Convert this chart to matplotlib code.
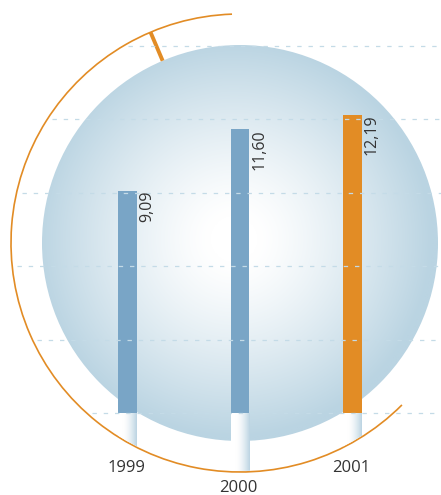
import numpy as np
import matplotlib
matplotlib.use("Agg")
import matplotlib.pyplot as plt
from matplotlib.patches import Circle, Arc
from matplotlib.colors import to_rgb

# ---- data ----
years = ["1999", "2000", "2001"]
values = [9.09, 11.60, 12.19]
value_labels = ["9,09", "11,60", "12,19"]
bar_colors = ["#79a5c6", "#79a5c6", "#e28c25"]
grid_values = [0, 3, 6, 9, 12, 15]
year_label_drop = [59, 79, 59]   # distance (px) from baseline to the year label baseline

# ---- layout ----
W, H, DPI = 441, 495, 100
FONT = ["Open Sans", "DejaVu Sans"]
plt.rcParams["font.family"] = FONT

fig = plt.figure(figsize=(W / DPI, H / DPI), dpi=DPI)

# decoration layer, pixel units with y pointing up
deco = fig.add_axes([0, 0, 1, 1], zorder=0)
deco.set_xlim(0, W)
deco.set_ylim(0, H)
deco.axis("off")

cx, cy = 240, 252
R_sphere = 198
R_ring = 229
orange = "#e28c25"

# shaded sphere: radial gradient from white centre to pale blue rim
edge = np.array(to_rgb("#bad4e2"))
n = 500
gx = np.linspace(-1, 1, n)
GX, GY = np.meshgrid(gx, gx)
r = np.clip(np.hypot(GX + 0.03, GY - 0.02), 0, 1)
f = np.clip((r - 0.12) / 0.88, 0, 1) ** 1.25
img = (1 - f)[..., None] * np.ones(3) + f[..., None] * edge
sphere_clip = Circle((cx, cy), R_sphere, transform=deco.transData)
im = deco.imshow(img, extent=[cx - R_sphere, cx + R_sphere, cy - R_sphere, cy + R_sphere],
                 origin="lower", interpolation="bilinear", zorder=1)
im.set_clip_path(sphere_clip)
deco.set_xlim(0, W)
deco.set_ylim(0, H)

# open orange ring with a radial tick
deco.add_patch(Arc((cx, cy), 2 * R_ring, 2 * R_ring, theta1=92, theta2=315,
                   color=orange, lw=1.2, zorder=3))
ang = np.deg2rad(113)
deco.plot([cx + R_sphere * np.cos(ang), cx + R_ring * np.cos(ang)],
          [cy + R_sphere * np.sin(ang), cy + R_ring * np.sin(ang)],
          color=orange, lw=2.8, solid_capstyle="butt", zorder=3)

# ---- chart layer ----
ax = fig.add_axes([0, 0, 1, 1], zorder=1)
ax.patch.set_alpha(0)
ax.axis("off")
x0_px, step_px = 127.5, 112.5
base_px, unit_px = 413, 24.47
ax.set_xlim(-x0_px / step_px, (W - x0_px) / step_px)
ax.set_ylim(-(H - base_px) / unit_px, base_px / unit_px)

x = np.arange(len(years))
bar_w = 18.5 / step_px
ax.bar(x, values, width=bar_w, color=bar_colors, zorder=2)

# reflective stems below the baseline, cut by the ring
ring_clip = Circle((cx, cy), R_ring - 1, transform=deco.transData)
stem_edge = np.array(to_rgb("#bcd4e2"))
t = np.linspace(0, 1, 64)
sf = np.clip((t - 0.25) / 0.75, 0, 1) ** 1.6
stem_img = ((1 - sf)[:, None] * np.ones(3) + sf[:, None] * stem_edge)[None, :, :]
ybot = ax.get_ylim()[0]
for xi in x:
    s = ax.imshow(stem_img, extent=[xi - bar_w / 2, xi + bar_w / 2, ybot, 0],
                  aspect="auto", interpolation="bilinear", zorder=1.5)
    s.set_clip_path(ring_clip)
ax.set_xlim(-x0_px / step_px, (W - x0_px) / step_px)
ax.set_ylim(-(H - base_px) / unit_px, base_px / unit_px)

# dashed guide lines starting at the ring
to_data = ax.transData.inverted()
for gv in grid_values:
    yd = deco.transData.inverted().transform(ax.transData.transform((0, gv)))[1]
    dx = np.sqrt(max(R_ring ** 2 - (yd - cy) ** 2, 0))
    xs_px = cx - dx + 5
    xs = to_data.transform(deco.transData.transform((xs_px, yd)))[0]
    ax.plot([xs, ax.get_xlim()[1]], [gv, gv], color="#c4dbe7",
            lw=0.9, ls=(0, (3.5, 5.5)), zorder=3)

# value labels, reading upwards beside each bar top
for xi, v, lab in zip(x, values, value_labels):
    ax.annotate(lab, xy=(xi + bar_w / 2, v), xytext=(1.5, 0), textcoords="offset points",
                rotation=90, rotation_mode="anchor", ha="right", va="top",
                fontsize=11.5, color="#333333", zorder=4)

# year labels
for xi, yr, drop in zip(x, years, year_label_drop):
    ax.annotate(yr, xy=(xi, 0), xytext=(-1, -drop * 72 / DPI), textcoords="offset points",
                ha="center", va="baseline", fontsize=12, color="#333333")

fig.savefig("out.png", dpi=DPI)
